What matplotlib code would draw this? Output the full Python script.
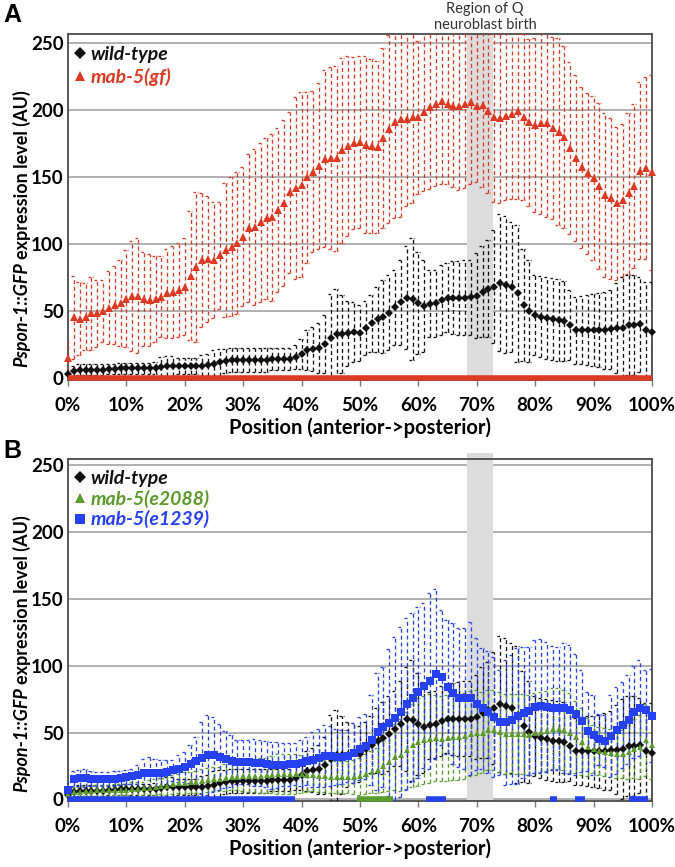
import numpy as np
import matplotlib.pyplot as plt
from matplotlib.lines import Line2D

# Positions along the body (percent, anterior -> posterior)
pos = np.arange(101)

# Panel A: wild-type
wt_mean = [3, 5.5, 6.5, 6.5, 6.5, 6.5, 6.5, 7, 7, 7.5,
           7.5, 7.5, 7.5, 7.5, 7.5, 8, 8.5, 9, 9, 9,
           9, 9, 9, 9.5, 10, 11, 12, 13, 14, 14,
           14, 14, 14, 14, 14, 14.5, 14.5, 14.5, 14.5, 16,
           18, 21, 22, 22.5, 25.5, 30, 33, 33, 33.5, 34.5,
           34, 37.8, 41, 44, 46, 49, 53, 56.7, 60.2, 59,
           56.5, 54, 55.5, 56, 58.5, 60.2, 60.2, 60.2, 60.2, 60.4,
           61.7, 64.7, 66.9, 68.4, 71.4, 69.7, 68.4, 63.4, 54.7, 50.2,
           47.3, 46, 44.8, 44, 43.5, 42.8, 39.8, 36, 36, 36,
           36, 36, 36, 36.6, 37.3, 37.8, 39.8, 39.8, 40.5, 36, 34.8]
wt_err = [3, 4, 4, 4, 4, 4, 4, 4, 4, 4,
          4, 4, 4, 4, 4, 4.5, 7.5, 7.5, 7.5, 6,
          6, 6, 6, 8, 8.5, 10, 10, 9, 9, 9,
          9, 9, 9, 9, 9, 8, 8, 8, 8, 9,
          11, 15, 16.5, 18.5, 21.5, 33, 34, 29, 24.5, 22.5,
          21, 20, 21, 24, 27, 28, 28, 31.6, 38.6, 45.5,
          38, 34, 25, 25, 26, 25.6, 27, 27.6, 28, 28,
          31.6, 34, 36, 42, 51, 51, 48.5, 51, 41.6, 38,
          30, 30, 30.6, 30.6, 30.4, 30, 26, 25, 25.4, 26,
          26.7, 27.4, 28.7, 29.4, 33.6, 37.6, 37.2, 37.2, 35.4, 36, 37.2]

# Panel A: mab-5(gf)
gf_mean = [15, 45.5, 44.5, 46, 48.5, 48.5, 50, 52.7, 55, 56.5,
           59.5, 61.7, 61.7, 59.5, 58.5, 59, 61, 63.4, 64.4, 66,
           68.4, 76.4, 82.8, 88.3, 88.8, 88.3, 91.8, 95.8, 98.3, 100.7,
           105.7, 112, 112.7, 116.2, 119.4, 120, 125.6, 130.6, 138.6, 141.8,
           144.3, 149.8, 154.2, 158.5, 163.7, 164.2, 164.2, 170, 173, 175.4,
           176, 174, 173.4, 172.4, 179, 186, 190.8, 193.5, 193.5, 194.8,
           194.8, 198.5, 202.2, 204.7, 207, 204.7, 202.7, 202.7, 204.7, 205.7,
           203.2, 203.7, 199.5, 194.8, 194, 195.8, 197, 199, 194.8, 190.8,
           189, 190.3, 190.3, 186.6, 184, 179.9, 171.6, 164.2, 157.5, 153,
           149.3, 143.5, 136.8, 134.3, 130.6, 132.6, 138, 143.5, 154.7, 156.7, 153.5]
gf_err = [13.6, 31, 27, 25, 27, 25, 23, 27, 29, 32,
          36, 41, 43, 35, 34, 32, 30, 33, 34, 35,
          36, 48, 56, 50, 47, 43, 40, 50, 52, 53,
          52, 55, 58, 59, 60, 62, 61, 62, 60, 68,
          69, 64, 60, 62, 66, 68, 69, 69, 67, 64,
          64, 66, 65, 64, 67, 70, 71, 73, 65, 64,
          57, 59, 61, 61, 62, 60, 60, 62, 63, 61,
          57, 61, 61, 63, 63, 63, 63, 65, 62, 62,
          65, 68, 70, 68, 70, 68, 64, 62, 60, 60,
          61, 62, 61, 60, 57, 57, 60, 61, 66, 68, 73]

# Panel B: mab-5(e2088)
e2088_mean = [3.7, 5.5, 5.5, 6.2, 6.2, 6.7, 6.7, 6.7, 7.2, 7.2,
              7.2, 7.7, 7.7, 8.2, 8.7, 9.2, 9.7, 10.2, 11.2, 12,
              12.2, 12.7, 13, 13.7, 14.2, 15, 15.5, 16.2, 16.7, 16.7,
              17.2, 17.2, 17.7, 17.7, 18, 18.5, 18.8, 19, 19, 19,
              19, 18.5, 18, 17.5, 17.2, 17, 17, 17, 16.7, 16.7,
              17.2, 19.2, 20.5, 21.7, 24.7, 28, 31.7, 33, 36.7, 40.5,
              43, 44.2, 45.5, 46, 45.5, 46, 46.7, 46.7, 47.2, 49.2,
              50, 50, 51.7, 51.7, 50.5, 48.7, 48.7, 48.7, 48.7, 48,
              49.7, 50.5, 51.2, 53, 53, 51.7, 49.7, 46.7, 43, 39.2,
              37.5, 36.2, 35.5, 34.7, 34.2, 34.2, 35.5, 38, 39.2, 44.2, 40.5]
e2088_err = [4, 4, 4, 4, 4, 4, 4, 4, 4, 4,
             4, 5, 5, 5, 6, 6, 6, 7, 7, 7,
             8, 8, 8, 9, 9, 9, 9, 10, 10, 10,
             11, 12, 12, 13, 13, 14, 15, 15, 15, 15,
             14, 13, 12, 12, 12, 12, 12, 12, 12, 13,
             14, 15, 16, 17, 19, 22, 25, 27, 29, 31,
             33, 33, 33, 32, 32, 32, 32, 32, 32, 32,
             32, 30, 30, 30, 30, 30, 30, 30, 30, 30,
             30, 30, 30, 30, 30, 30, 30, 27, 25, 22,
             18, 18, 18, 18, 18, 18, 20, 22, 24, 27, 25]

# Panel B: mab-5(e1239)
e1239_mean = [6.7, 15.5, 16, 16.2, 15.5, 15.2, 15.2, 15.2, 15.5, 16,
              16.5, 17.2, 18.5, 20, 20, 19.7, 19.7, 20.5, 21.7, 23,
              24.2, 26.2, 28.7, 31.2, 33, 33.5, 31.7, 30, 28.7, 28,
              28, 27.7, 27.5, 27, 26.2, 25.5, 25.7, 26, 26.2, 26.5,
              27.2, 28.7, 29.7, 31.2, 32.5, 32.2, 31.7, 31.7, 32.2, 34.4,
              38, 39.7, 44.2, 50.5, 54.2, 57.2, 60.5, 65.5, 71.2, 76,
              80, 85, 88.5, 93.7, 91.2, 84.2, 79.2, 76, 75.5, 75.5,
              71.2, 68, 65.5, 61.7, 57.5, 57.5, 59.7, 62.2, 64.7, 66.2,
              69.2, 69.7, 69.2, 68.2, 68, 68.2, 67.2, 63.5, 58.7, 51,
              48, 45, 43.5, 47.2, 51.7, 55.7, 59.7, 65.5, 68.5, 66.7, 62.5]
e1239_err = [6, 5.7, 6.2, 6.8, 5.7, 5.5, 5.5, 5.5, 5.5, 5.5,
             5.2, 5.8, 7, 10.5, 11.7, 10.3, 9.5, 8.7, 8, 10,
             11.3, 14.3, 18, 26.8, 30, 28.2, 25, 21.2, 19.3, 16.2,
             16.2, 16.5, 17.5, 17.2, 17.3, 17.5, 17.3, 16.2, 16, 15.7,
             17.5, 18, 20.8, 21.8, 23, 22.5, 21.3, 20.5, 19.5, 22.5,
             23.7, 24.5, 33.8, 43.7, 45, 55, 61, 63.5, 64.3, 63,
             64, 61.7, 66, 63.5, 50.5, 50, 52.5, 52, 52.5, 57.5,
             49.3, 45, 45.5, 45, 39.2, 46.5, 48.3, 50.8, 49, 48,
             49.8, 50, 48.8, 46.5, 45.7, 48.8, 48.3, 45.5, 38, 29.5,
             30, 19.2, 19.5, 30.8, 32.5, 32.3, 33.3, 34.2, 35.7, 30, 34.7]

# Significance bars drawn along y = 0 (start %, end %)
sig_a_gf = [(0, 100)]
sig_b_e1239 = [(0, 38.9), (61.3, 64.7), (82.5, 83.7), (86.8, 88.5), (96, 99.3)]
sig_b_e2088 = [(49.5, 55.6)]

# Region of Q neuroblast birth
q_region = (68.3, 72.7)

yticks = [0, 50, 100, 150, 200, 250]
xticks = [0, 10, 20, 30, 40, 50, 60, 70, 80, 90, 100]
xtick_labels = ['0%', '10%', '20%', '30%', '40%', '50%', '60%', '70%', '80%', '90%', '100%']

# Colours
c_wt = '#111111'
c_gf = '#dc3a22'
c_e2088 = '#5b9a2c'
c_e1239 = '#2541f2'

plt.rcParams['font.family'] = ['Lato', 'DejaVu Sans']
plt.rcParams['font.weight'] = 'bold'

fig = plt.figure(figsize=(6.75, 8.67), dpi=100)
W, H = 675, 867
axA = fig.add_axes([68 / W, 1 - 380 / H, 584 / W, 346 / H])
axB = fig.add_axes([68 / W, 1 - 801 / H, 584 / W, 342 / H])


# Draw one series: dashed error bars with caps and markers
def draw_series(ax, mean, err, color, marker, ms, z):
    mean = np.asarray(mean, dtype=float)
    err = np.asarray(err, dtype=float)
    lo = mean - err
    hi = mean + err
    ax.vlines(pos, lo, hi, colors=color, linestyles=(0, (3, 2.2)), linewidth=0.95, zorder=z)
    ax.hlines(hi, pos - 0.55, pos + 0.2, colors=color, linestyles=(0, (2, 1.2)), linewidth=0.95, zorder=z)
    ax.hlines(lo, pos - 0.55, pos + 0.2, colors=color, linestyles=(0, (2, 1.2)), linewidth=0.95, zorder=z)
    ax.plot(pos, mean, linestyle='none', marker=marker, color=color, markersize=ms,
            markeredgewidth=0, zorder=z + 1, clip_on=False)


# Axis styling shared by both panels
def setup(ax, ytop, band_top):
    ax.set_xlim(0, 100)
    ax.set_ylim(-1.2, ytop)
    ax.set_yticks(yticks)
    ax.set_xticks(xticks)
    ax.set_xticklabels(xtick_labels)
    ax.grid(axis='y', color='#a3a3a3', linewidth=1.2)
    ax.set_axisbelow(True)
    ax.axvspan(q_region[0], q_region[1], ymin=0, ymax=band_top, color='#dcdcdc',
               linewidth=0, zorder=0.6, clip_on=False)
    for s in ax.spines.values():
        s.set_color('#4a4a4a')
        s.set_linewidth(1.3)
    ax.tick_params(axis='y', length=0, pad=3, labelsize=13.5)
    ax.tick_params(axis='x', length=4, width=1, color='#7a7a7a', pad=8, labelsize=13.5)
    for lab in ax.get_xticklabels() + ax.get_yticklabels():
        lab.set_fontweight('bold')
    ax.set_xlabel('Position (anterior->posterior)', fontsize=14.5, fontweight='bold', labelpad=3)


def sig_bars(ax, segs, color):
    for a, b in segs:
        ax.plot([a, b], [0.3, 0.3], color=color, linewidth=4, solid_capstyle='butt',
                zorder=6, clip_on=False)


# Panel A
setup(axA, 256.7, 1.0)
draw_series(axA, gf_mean, gf_err, c_gf, '^', 5.5, 3)
draw_series(axA, wt_mean, wt_err, c_wt, 'D', 4.5, 5)
sig_bars(axA, sig_a_gf, c_gf)

# Panel B
setup(axB, 254.5, 1.018)
draw_series(axB, wt_mean, wt_err, c_wt, 'D', 4.5, 3)
draw_series(axB, e2088_mean, e2088_err, c_e2088, '^', 5, 3.2)
draw_series(axB, e1239_mean, e1239_err, c_e1239, 's', 5.5, 3.4)
sig_bars(axB, sig_b_e1239, c_e1239)
sig_bars(axB, sig_b_e2088, c_e2088)


# Legends
def legend(ax, entries, spacing, ytop):
    handles = [Line2D([], [], linestyle='none', marker=m, color=c, markersize=ms, markeredgewidth=0)
               for _, c, m, ms in entries]
    leg = ax.legend(handles, [e[0] for e in entries], loc='upper left', bbox_to_anchor=(0.0, ytop),
                    frameon=False, handlelength=0.55, handletextpad=0.25, borderaxespad=0.15,
                    borderpad=0.2, labelspacing=spacing,
                    prop={'weight': 'bold', 'style': 'italic', 'size': 14})
    for txt, e in zip(leg.get_texts(), entries):
        txt.set_color(e[1])


legend(axA, [('wild-type', c_wt, 'D', 6), ('mab-5(gf)', c_gf, '^', 7.5)], 0.25, 1 - 5 / 346)
legend(axB, [('wild-type', c_wt, 'D', 6), ('mab-5(e2088)', c_e2088, '^', 7),
             ('mab-5(e1239)', c_e1239, 's', 6.5)], 0.14, 1 - 4 / 342)

# Annotation for the gray band
fig.text(485 / W, 1 - 17 / H, 'Region of Q\nneuroblast birth', ha='center', va='center',
         fontsize=10.5, fontweight='normal', color='#333333', linespacing=1.15)

# Panel letters
fig.text(3 / W, 1 - 22 / H, 'A', fontsize=18, fontweight='bold', family='Liberation Sans')
fig.text(3 / W, 1 - 458 / H, 'B', fontsize=18, fontweight='bold', family='Liberation Sans')

# Y labels: italic reporter name followed by plain text, stacked vertically
fig.canvas.draw()
renderer = fig.canvas.get_renderer()
for ax, ybot in [(axA, 367), (axB, 792)]:
    t1 = fig.text(22 / W, 1 - ybot / H, 'Pspon-1::GFP', rotation=90, ha='center', va='bottom',
                  fontsize=13, fontweight='bold', style='italic')
    bb = t1.get_window_extent(renderer)
    fig.text(22 / W, (bb.y1 + 3) / H, 'expression level (AU)', rotation=90, ha='center',
             va='bottom', fontsize=13, fontweight='bold')

fig.savefig('out.png', dpi=100)
